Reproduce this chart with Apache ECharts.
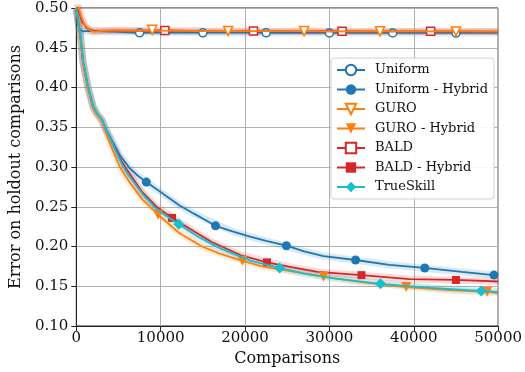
<!DOCTYPE html>
<html><head><meta charset="utf-8">
<script src="https://cdn.jsdelivr.net/npm/echarts@6/dist/echarts.min.js"></script>
<style>html,body{margin:0;padding:0;background:#fff}#c{width:525px;height:372px}</style>
</head><body><div id="c"></div>
<script>
// ---- data ----
const seriesNames = ['Uniform','Uniform - Hybrid','GURO','GURO - Hybrid','BALD','BALD - Hybrid','TrueSkill'];
const xTicks = [0,10000,20000,30000,40000,50000];
const yTicks = [0.10,0.15,0.20,0.25,0.30,0.35,0.40,0.45,0.50];

const uniformCurve = [[0,0.497],[200,0.481],[400,0.473],[800,0.4705],[1500,0.4712],[3000,0.4705],[5000,0.4700],[10000,0.4695],[15000,0.4692],[20000,0.4690],[25000,0.4690],[30000,0.4688],[35000,0.4690],[40000,0.4688],[45000,0.4688],[50000,0.4688]];
const uniformMarks = [[7500,0.4688],[15000,0.4688],[22500,0.4688],[30000,0.4686],[37500,0.4686],[45000,0.4684]];

const guroCurve = [[0,0.515],[300,0.500],[600,0.489],[1000,0.479],[1500,0.473],[2000,0.4700],[3000,0.4712],[5000,0.4718],[9000,0.4715],[15000,0.4710],[20000,0.4708],[30000,0.4706],[40000,0.4705],[50000,0.4703]];
const guroMarks = [[9000,0.4725],[18000,0.4712],[27000,0.4710],[36000,0.4708],[45000,0.4705]];

const baldCurve = [[0,0.510],[300,0.496],[700,0.483],[1200,0.475],[2000,0.4712],[4000,0.4716],[8000,0.4714],[15000,0.4710],[25000,0.4707],[35000,0.4705],[50000,0.4704]];
const baldMarks = [[10500,0.4718],[21000,0.4712],[31500,0.4708],[42000,0.4706]];

const uniformHCurve = [[0,0.500],[250,0.480],[500,0.463],[800,0.432],[1400,0.400],[2000,0.376],[2500,0.366],[2900,0.361],[3100,0.358],[3400,0.350],[4100,0.336],[5150,0.315],[6300,0.299],[7300,0.289],[10200,0.267],[12200,0.252],[14000,0.241],[18500,0.219],[20700,0.212],[22500,0.207],[27000,0.194],[29300,0.188],[37100,0.177],[45700,0.168],[50000,0.1635]];
const uniformHMarks = [[8300,0.281],[16500,0.226],[24900,0.201],[33100,0.183],[41300,0.173],[49500,0.164]];

const guroHCurve = [[0,0.500],[250,0.480],[500,0.462],[800,0.430],[1400,0.398],[2000,0.374],[2500,0.365],[2900,0.360],[3100,0.356],[3400,0.347],[4100,0.327],[5150,0.300],[6300,0.281],[7850,0.259],[12200,0.217],[14900,0.200],[17000,0.191],[22000,0.175],[24800,0.170],[34000,0.155],[44200,0.145],[50000,0.1415]];
const guroHMarks = [[9700,0.240],[19700,0.182],[29300,0.162],[39100,0.149],[48700,0.143]];

const baldHCurve = [[0,0.500],[250,0.481],[500,0.464],[800,0.432],[1400,0.399],[2000,0.375],[2500,0.366],[2900,0.361],[3100,0.357],[3400,0.349],[4100,0.334],[5150,0.311],[5900,0.298],[7850,0.268],[9500,0.250],[13500,0.222],[16000,0.206],[19500,0.189],[25500,0.174],[28600,0.168],[39500,0.159],[50000,0.156]];
const baldHMarks = [[11350,0.236],[22600,0.180],[33800,0.164],[45000,0.158]];

const trueSkillCurve = [[0,0.500],[250,0.483],[500,0.466],[800,0.435],[1400,0.401],[2000,0.377],[2500,0.367],[2900,0.362],[3100,0.358],[3400,0.350],[4100,0.334],[5150,0.309],[5900,0.294],[7850,0.266],[9500,0.247],[14500,0.212],[17000,0.198],[20700,0.182],[27000,0.166],[30500,0.160],[42000,0.148],[50000,0.143]];
const trueSkillMarks = [[12150,0.228],[24100,0.173],[36050,0.153],[48000,0.144]];

// ---- styles ----
const FONT = 'DejaVu Serif';
const C_BLUE = '#1f77b4', C_ORANGE = '#ff7f0e', C_RED = '#d62728', C_CYAN = '#17becf';

function merge(curve, marks) {
  const pts = curve.map(p => ({value: p, symbol: 'none'}))
    .concat(marks.map(p => ({value: p})));
  pts.sort((a, b) => a.value[0] - b.value[0]);
  return pts;
}

const defs = [
  {name: seriesNames[0], curve: uniformCurve, marks: uniformMarks, color: C_BLUE, symbol: 'circle', open: true, size: 8, rot: 0, z: 3},
  {name: seriesNames[1], curve: uniformHCurve, marks: uniformHMarks, color: C_BLUE, symbol: 'circle', open: false, size: 9, rot: 0, z: 4},
  {name: seriesNames[2], curve: guroCurve, marks: guroMarks, color: C_ORANGE, symbol: 'triangle', open: true, size: 9, rot: 180, z: 6},
  {name: seriesNames[3], curve: guroHCurve, marks: guroHMarks, color: C_ORANGE, symbol: 'triangle', open: false, size: 10, rot: 180, z: 6},
  {name: seriesNames[4], curve: baldCurve, marks: baldMarks, color: C_RED, symbol: 'rect', open: true, size: 8, rot: 0, z: 5},
  {name: seriesNames[5], curve: baldHCurve, marks: baldHMarks, color: C_RED, symbol: 'rect', open: false, size: 8, rot: 0, z: 5},
  {name: seriesNames[6], curve: trueSkillCurve, marks: trueSkillMarks, color: C_CYAN, symbol: 'diamond', open: false, size: 11, rot: 0, z: 7}
];

function hexA(hex, a) {
  const n = parseInt(hex.slice(1), 16);
  return 'rgba(' + (n >> 16) + ',' + ((n >> 8) & 255) + ',' + (n & 255) + ',' + a + ')';
}

const series = [];
defs.forEach(d => {
  series.push({
    type: 'line', name: d.name + ' band', data: d.curve, showSymbol: false, symbol: 'none',
    lineStyle: {color: hexA(d.color, 0.16), width: 7}, z: 1, silent: true, legendHoverLink: false
  });
});
defs.forEach(d => {
  series.push({
    type: 'line', name: d.name, data: merge(d.curve, d.marks),
    symbol: d.symbol, symbolSize: d.size, symbolRotate: d.rot,
    showSymbol: true, showAllSymbol: true,
    lineStyle: {color: d.color, width: 1.8},
    itemStyle: {color: d.open ? '#ffffff' : d.color, borderColor: d.color, borderWidth: d.open ? 1.5 : 0},
    z: d.z
  });
});

const chart = echarts.init(document.getElementById('c'), null, {renderer: 'canvas'});
chart.setOption({
  animation: false,
  backgroundColor: '#fff',
  grid: {left: 73, right: 25, top: 8, bottom: 46, show: true, borderColor: '#222', borderWidth: 1},
  xAxis: {
    type: 'value', min: xTicks[0], max: xTicks[xTicks.length - 1], interval: 10000,
    name: 'Comparisons', nameLocation: 'middle', nameGap: 22,
    nameTextStyle: {fontFamily: FONT, fontSize: 16, color: '#111'},
    axisLine: {show: true, lineStyle: {color: '#222', width: 1}},
    axisTick: {show: true, inside: false, length: 5, lineStyle: {color: '#222'}},
    axisLabel: {fontFamily: FONT, fontSize: 15, color: '#111', margin: 5, formatter: v => String(v)},
    splitLine: {show: true, lineStyle: {color: '#b0b0b0', width: 1}}
  },
  yAxis: {
    type: 'value', min: yTicks[0], max: yTicks[yTicks.length - 1], interval: 0.05,
    name: 'Error on holdout comparisons', nameLocation: 'middle', nameGap: 47,
    nameTextStyle: {fontFamily: FONT, fontSize: 16, color: '#111'},
    axisLine: {show: true, lineStyle: {color: '#222', width: 1}},
    axisTick: {show: true, inside: false, length: 5, lineStyle: {color: '#222'}},
    axisLabel: {fontFamily: FONT, fontSize: 15, color: '#111', margin: 8, formatter: v => v.toFixed(2)},
    splitLine: {show: true, lineStyle: {color: '#b0b0b0', width: 1}}
  },
  legend: {
    data: seriesNames, orient: 'vertical', right: 31, top: 58,
    backgroundColor: 'rgba(255,255,255,0.9)', borderColor: '#d0d0d0', borderWidth: 1, borderRadius: 3,
    padding: [5, 6, 5, 5], itemWidth: 28, itemHeight: 13, itemGap: 5.5,
    textStyle: {fontFamily: FONT, fontSize: 13, color: '#111', lineHeight: 14, padding: [0, 0, 0, 5]}
  },
  series: series
});
</script></body></html>
